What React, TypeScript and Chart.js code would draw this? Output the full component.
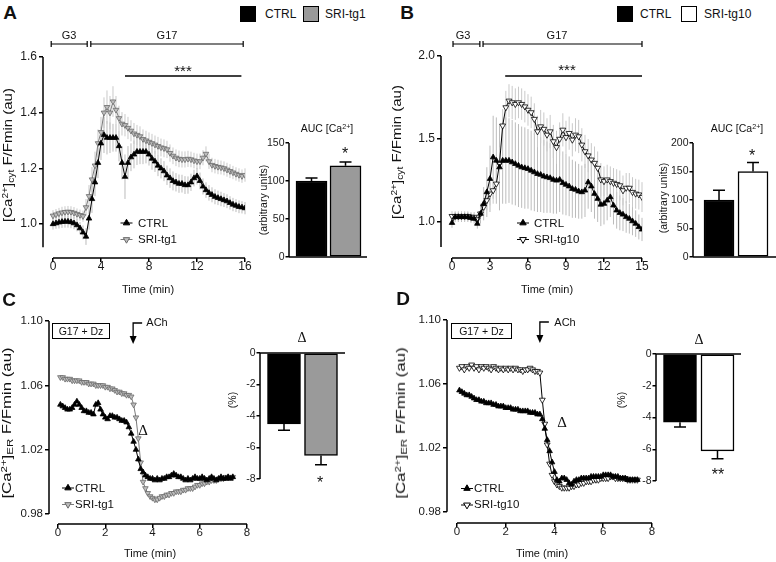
import React, { useEffect, useRef } from 'react';
import { Chart, registerables } from 'chart.js';

Chart.register(...registerables);

const FONT = "'Liberation Sans', Arial, Helvetica, sans-serif";
const SERIF = "'Liberation Serif', 'DejaVu Serif', serif";

// ---------------- Panel A: cytosolic Ca2+ (CTRL vs SRI-tg1) ----------------
const timeStartA = 0;
const timeStepA = 0.25;
const ctrlA = [
  1.000, 1.003, 1.006, 1.008, 1.009, 1.009, 1.007, 1.003, 0.996, 0.985,
  0.970, 0.955, 1.020, 1.090, 1.150, 1.220, 1.290, 1.320, 1.310, 1.310,
  1.310, 1.310, 1.280, 1.220, 1.170, 1.220, 1.240, 1.250, 1.260, 1.260,
  1.260, 1.260, 1.250, 1.235, 1.225, 1.210, 1.200, 1.190, 1.175, 1.165,
  1.155, 1.150, 1.145, 1.145, 1.140, 1.140, 1.150, 1.165, 1.172, 1.155,
  1.135, 1.122, 1.112, 1.105, 1.098, 1.094, 1.090, 1.086, 1.082, 1.076,
  1.070, 1.066, 1.062, 1.060, 1.057,
];
const ctrlAErr = [
  0.020, 0.020, 0.022, 0.022, 0.022, 0.022, 0.022, 0.022, 0.022, 0.022,
  0.025, 0.030, 0.040, 0.050, 0.050, 0.055, 0.060, 0.065, 0.060, 0.055,
  0.050, 0.050, 0.055, 0.060, 0.080, 0.060, 0.050, 0.050, 0.048, 0.045,
  0.045, 0.042, 0.040, 0.040, 0.038, 0.038, 0.036, 0.036, 0.035, 0.035,
  0.034, 0.033, 0.033, 0.032, 0.032, 0.031, 0.031, 0.030, 0.030, 0.030,
  0.029, 0.028, 0.028, 0.027, 0.027, 0.026, 0.026, 0.025, 0.025, 0.024,
  0.024, 0.023, 0.023, 0.022, 0.022,
];
const sriA = [
  1.030, 1.034, 1.038, 1.041, 1.043, 1.044, 1.043, 1.040, 1.036, 1.032,
  1.028, 1.060, 1.100, 1.160, 1.210, 1.290, 1.330, 1.400, 1.420, 1.400,
  1.440, 1.410, 1.380, 1.360, 1.355, 1.345, 1.335, 1.325, 1.320, 1.315,
  1.305, 1.300, 1.295, 1.290, 1.285, 1.280, 1.275, 1.272, 1.268, 1.255,
  1.245, 1.238, 1.234, 1.232, 1.232, 1.234, 1.232, 1.228, 1.225, 1.225,
  1.238, 1.252, 1.225, 1.212, 1.208, 1.205, 1.203, 1.200, 1.195, 1.190,
  1.185, 1.180, 1.176, 1.172, 1.176,
];
const sriAErr = [
  0.020, 0.020, 0.020, 0.021, 0.021, 0.021, 0.021, 0.021, 0.020, 0.020,
  0.020, 0.030, 0.040, 0.045, 0.050, 0.050, 0.055, 0.055, 0.060, 0.060,
  0.055, 0.050, 0.045, 0.042, 0.040, 0.040, 0.038, 0.038, 0.036, 0.036,
  0.035, 0.035, 0.034, 0.034, 0.033, 0.033, 0.032, 0.032, 0.031, 0.031,
  0.030, 0.030, 0.030, 0.029, 0.029, 0.029, 0.028, 0.028, 0.028, 0.028,
  0.027, 0.027, 0.027, 0.026, 0.026, 0.026, 0.025, 0.025, 0.025, 0.025,
  0.024, 0.024, 0.024, 0.024, 0.024,
];
const xTicksA = [0, 4, 8, 12, 16];
const yTicksA = [1.0, 1.2, 1.4, 1.6];
const aucA = [100, 120];
const aucAErr = [4, 5];
const aucTicksA = [0, 50, 100, 150];

// ---------------- Panel B: cytosolic Ca2+ (CTRL vs SRI-tg10) ----------------
const timeStartB = 0;
const timeStepB = 0.25;
const ctrlB = [
  0.995, 1.030, 1.030, 1.030, 1.030, 1.030, 1.025, 1.020, 0.990, 1.050,
  1.110, 1.180, 1.260, 1.390, 1.370, 1.330, 1.370, 1.370, 1.370, 1.360,
  1.350, 1.340, 1.330, 1.325, 1.320, 1.310, 1.300, 1.290, 1.285, 1.275,
  1.270, 1.265, 1.255, 1.250, 1.255, 1.235, 1.225, 1.215, 1.200, 1.195,
  1.185, 1.180, 1.190, 1.240, 1.215, 1.170, 1.140, 1.105, 1.110, 1.130,
  1.150, 1.100, 1.070, 1.055, 1.045, 1.030, 1.020, 1.005, 0.990, 0.970,
  0.955,
];
const ctrlBErr = [
  0.030, 0.030, 0.030, 0.030, 0.030, 0.030, 0.030, 0.030, 0.030, 0.060,
  0.100, 0.150, 0.200, 0.250, 0.260, 0.260, 0.260, 0.260, 0.255, 0.255,
  0.250, 0.250, 0.245, 0.245, 0.240, 0.240, 0.235, 0.230, 0.225, 0.220,
  0.215, 0.210, 0.205, 0.200, 0.195, 0.190, 0.185, 0.180, 0.175, 0.170,
  0.165, 0.160, 0.160, 0.160, 0.155, 0.150, 0.140, 0.130, 0.125, 0.120,
  0.120, 0.115, 0.110, 0.105, 0.100, 0.095, 0.090, 0.085, 0.080, 0.075,
  0.070,
];
const sriB = [
  1.035, 1.035, 1.035, 1.035, 1.035, 1.035, 1.030, 1.030, 1.015, 1.050,
  1.090, 1.130, 1.170, 1.190, 1.230, 1.350, 1.580, 1.690, 1.730, 1.720,
  1.710, 1.720, 1.710, 1.695, 1.675, 1.660, 1.620, 1.545, 1.575, 1.560,
  1.525, 1.545, 1.485, 1.450, 1.500, 1.555, 1.510, 1.535, 1.495, 1.525,
  1.515, 1.465, 1.425, 1.400, 1.375, 1.355, 1.325, 1.255, 1.245, 1.255,
  1.245, 1.235, 1.228, 1.220, 1.190, 1.205, 1.205, 1.180, 1.170, 1.165,
  1.150,
];
const sriBErr = [
  0.030, 0.030, 0.030, 0.030, 0.030, 0.030, 0.030, 0.030, 0.030, 0.040,
  0.050, 0.060, 0.070, 0.080, 0.090, 0.100, 0.100, 0.100, 0.100, 0.100,
  0.095, 0.095, 0.095, 0.095, 0.095, 0.095, 0.095, 0.095, 0.100, 0.100,
  0.100, 0.100, 0.100, 0.100, 0.100, 0.100, 0.100, 0.100, 0.100, 0.100,
  0.100, 0.100, 0.100, 0.100, 0.100, 0.100, 0.100, 0.100, 0.090, 0.090,
  0.090, 0.090, 0.090, 0.090, 0.090, 0.090, 0.090, 0.090, 0.090, 0.090,
  0.090,
];
const xTicksB = [0, 3, 6, 9, 12, 15];
const yTicksB = [1.0, 1.5, 2.0];
const aucB = [100, 150];
const aucBErr = [17, 16];
const aucTicksB = [0, 50, 100, 150, 200];

// ---------------- Panel C: ER Ca2+ (CTRL vs SRI-tg1) ----------------
const timeStartC = 0.1;
const timeStepC = 0.1;
const ctrlC = [
  1.048, 1.047, 1.046, 1.045, 1.045, 1.046, 1.048, 1.050, 1.048, 1.046,
  1.044, 1.044, 1.043, 1.043, 1.042, 1.048, 1.049, 1.045, 1.042, 1.040,
  1.039, 1.041, 1.041, 1.040, 1.040, 1.039, 1.038, 1.038, 1.037, 1.034,
  1.030, 1.025, 1.020, 1.014, 1.008, 1.006, 1.004, 1.003, 1.002, 1.002,
  1.001, 1.002, 1.001, 1.002, 1.002, 1.003, 1.003, 1.004, 1.005, 1.004,
  1.003, 1.003, 1.002, 1.001, 1.002, 1.001, 1.002, 1.003, 1.002, 1.002,
  1.003, 1.002, 1.001, 1.002, 1.003, 1.002, 1.001, 1.002, 1.003, 1.002,
  1.002, 1.003, 1.002, 1.003,
];
const sriC = [
  1.065, 1.065, 1.064, 1.064, 1.064, 1.063, 1.063, 1.063, 1.063, 1.062,
  1.062, 1.062, 1.061, 1.061, 1.061, 1.060, 1.060, 1.060, 1.060, 1.059,
  1.059, 1.058, 1.058, 1.057, 1.056, 1.056, 1.055, 1.055, 1.054, 1.054,
  1.053, 1.048, 1.040, 1.027, 1.012, 1.000, 0.996, 0.993, 0.991, 0.990,
  0.989, 0.989, 0.990, 0.991, 0.991, 0.992, 0.992, 0.993, 0.993, 0.994,
  0.994, 0.994, 0.995, 0.995, 0.996, 0.996, 0.996, 0.997, 0.998, 0.998,
  0.999, 0.999, 1.000, 1.000, 1.001, 1.001, 1.001, 1.002, 1.002, 1.002,
  1.003, 1.003, 1.003, 1.003,
];
const xTicksC = [0, 2, 4, 6, 8];
const yTicksC = [0.98, 1.02, 1.06, 1.10];
const deltaC = [-4.5, -6.5];
const deltaCErr = [0.4, 0.6];
const deltaTicks = [0, -2, -4, -6, -8];

// ---------------- Panel D: ER Ca2+ (CTRL vs SRI-tg10) ----------------
const timeStartD = 0.1;
const timeStepD = 0.1;
const ctrlD = [
  1.056, 1.055, 1.054, 1.053, 1.053, 1.052, 1.051, 1.050, 1.050, 1.049,
  1.049, 1.048, 1.048, 1.048, 1.047, 1.047, 1.046, 1.046, 1.046, 1.045,
  1.045, 1.045, 1.044, 1.044, 1.044, 1.043, 1.043, 1.043, 1.043, 1.042,
  1.042, 1.042, 1.041, 1.041, 1.038, 1.032, 1.025, 1.018, 1.011, 1.005,
  1.000, 0.999, 1.001, 1.001, 1.000, 0.998, 0.997, 0.999, 1.000, 1.000,
  1.001, 1.001, 1.001, 1.001, 1.002, 1.002, 1.002, 1.002, 1.002, 1.003,
  1.003, 1.003, 1.003, 1.002, 1.002, 1.002, 1.001, 1.001, 1.001, 1.000,
  1.000, 1.000, 1.000, 1.000,
];
const sriD = [
  1.070, 1.071, 1.069, 1.071, 1.070, 1.072, 1.070, 1.071, 1.069, 1.071,
  1.070, 1.071, 1.070, 1.069, 1.071, 1.070, 1.069, 1.070, 1.069, 1.070,
  1.069, 1.070, 1.069, 1.070, 1.069, 1.069, 1.068, 1.069, 1.069, 1.070,
  1.069, 1.068, 1.068, 1.067, 1.050, 1.035, 1.022, 1.010, 1.003, 0.999,
  0.997, 0.996, 0.995, 0.995, 0.995, 0.995, 0.996, 0.996, 0.997, 0.997,
  0.998, 0.998, 0.999, 0.999, 0.999, 1.000, 1.000, 1.000, 1.001, 1.001,
  1.001, 1.001, 1.002, 1.002, 1.001, 1.001, 1.001, 1.001, 1.001, 1.000,
  1.000, 1.000, 1.000, 1.000,
];
const xTicksD = [0, 2, 4, 6, 8];
const yTicksD = [0.98, 1.02, 1.06, 1.10];
const deltaD = [-4.3, -6.1];
const deltaDErr = [0.3, 0.5];

// ---------------- styles ----------------
const BLACK_STYLE = { line: '#000', fill: '#000', stroke: '#000', down: false, err: '#bcbcbc' };
const GRAY_STYLE = { line: '#7a7a7a', fill: '#bdbdbd', stroke: '#6a6a6a', down: true, err: '#c9c9c9' };
const WHITE_STYLE = { line: '#000', fill: '#fff', stroke: '#000', down: true, err: '#c9c9c9' };

function tri(ctx: any, x: number, y: number, r: number, down: boolean, fill: string, stroke: string) {
  ctx.beginPath();
  let a = down ? Math.PI : 0;
  for (let k = 0; k < 3; k++) {
    const px = x + Math.sin(a) * r;
    const py = y - Math.cos(a) * r;
    if (k === 0) ctx.moveTo(px, py);
    else ctx.lineTo(px, py);
    a += (2 * Math.PI) / 3;
  }
  ctx.closePath();
  ctx.fillStyle = fill;
  ctx.fill();
  ctx.strokeStyle = stroke;
  ctx.lineWidth = 1;
  ctx.stroke();
}

function linePlugin(p: any) {
  return {
    id: 'linePanel',
    beforeDatasetsDraw(chart: any) {
      const ctx = chart.ctx;
      const xs = chart.scales.x;
      const ys = chart.scales.y;
      ctx.save();
      chart.data.datasets.forEach((ds: any) => {
        if (!ds.errors) return;
        ctx.beginPath();
        ctx.strokeStyle = ds.errColor;
        ctx.lineWidth = 1;
        ds.data.forEach((pt: any, i: number) => {
          const x = xs.getPixelForValue(pt.x);
          ctx.moveTo(x, ys.getPixelForValue(pt.y + ds.errors[i]));
          ctx.lineTo(x, ys.getPixelForValue(pt.y - ds.errors[i]));
        });
        ctx.stroke();
      });
      const left = chart.chartArea.left;
      const bottom = chart.chartArea.bottom;
      ctx.strokeStyle = '#000';
      ctx.lineWidth = 1.5;
      ctx.beginPath();
      ctx.moveTo(left, ys.getPixelForValue(p.yAxis[1]));
      ctx.lineTo(left, ys.getPixelForValue(p.yAxis[0]));
      ctx.moveTo(xs.getPixelForValue(p.xAxis[0]), bottom);
      ctx.lineTo(xs.getPixelForValue(p.xAxis[1]), bottom);
      ctx.stroke();
      ctx.restore();
    },
    afterDatasetsDraw(chart: any) {
      const ctx = chart.ctx;
      const xs = chart.scales.x;
      const ox = p.box.cx;
      const oy = p.box.cy;
      ctx.save();
      ctx.strokeStyle = '#000';
      ctx.fillStyle = '#000';
      ctx.lineWidth = 1.2;
      if (p.brackets) {
        const y = p.bracketY - oy;
        p.brackets.forEach((br: number[]) => {
          const x1 = xs.getPixelForValue(br[0]);
          const x2 = xs.getPixelForValue(br[1]);
          ctx.beginPath();
          ctx.moveTo(x1, y); ctx.lineTo(x2, y);
          ctx.moveTo(x1, y - 3); ctx.lineTo(x1, y + 3);
          ctx.moveTo(x2, y - 3); ctx.lineTo(x2, y + 3);
          ctx.stroke();
        });
      }
      if (p.sig) {
        ctx.lineWidth = 1.6;
        ctx.beginPath();
        ctx.moveTo(xs.getPixelForValue(p.sig[0]), p.sig[2] - oy);
        ctx.lineTo(xs.getPixelForValue(p.sig[1]), p.sig[2] - oy);
        ctx.stroke();
      }
      if (p.arrow) {
        const ax = xs.getPixelForValue(p.arrow[0]);
        const y1 = p.arrow[1] - oy;
        const y2 = p.arrow[2] - oy;
        ctx.lineWidth = 1.3;
        ctx.beginPath();
        ctx.moveTo(ax + 9, y1); ctx.lineTo(ax, y1); ctx.lineTo(ax, y2 - 6);
        ctx.stroke();
        ctx.beginPath();
        ctx.moveTo(ax - 3.5, y2 - 8); ctx.lineTo(ax + 3.5, y2 - 8); ctx.lineTo(ax, y2);
        ctx.closePath();
        ctx.fill();
      }
      p.series.forEach((s: any) => {
        const lx = s.legend[0] - ox;
        const ly = s.legend[1] - oy;
        ctx.strokeStyle = s.line;
        ctx.lineWidth = 1;
        ctx.beginPath();
        ctx.moveTo(lx - 6, ly); ctx.lineTo(lx + 6, ly);
        ctx.stroke();
        tri(ctx, lx, ly, s.r + 0.5, s.down, s.fill, s.stroke);
      });
      ctx.restore();
    },
  };
}

function makeLineConfig(p: any) {
  const b = p.box;
  const datasets = p.series.map((s: any) => ({
    data: s.values.map((v: number, i: number) => ({ x: s.t0 + i * s.step, y: v })),
    errors: s.errors || null,
    errColor: s.err,
    borderColor: s.line,
    borderWidth: 1,
    tension: 0,
    fill: false,
    pointStyle: 'triangle',
    pointRotation: s.down ? 180 : 0,
    pointRadius: s.r,
    pointBackgroundColor: s.fill,
    pointBorderColor: s.stroke,
    pointBorderWidth: 0.8,
  }));
  const tickFont = { family: FONT, size: p.tickSize, lineHeight: 1 };
  return {
    type: 'line',
    data: { datasets },
    options: {
      animation: false,
      responsive: false,
      devicePixelRatio: 1,
      events: [],
      layout: { padding: { left: 0, top: b.T - b.cy, right: b.cx + b.cw - b.R, bottom: 0 } },
      plugins: { legend: { display: false }, tooltip: { enabled: false } },
      scales: {
        x: {
          type: 'linear',
          min: p.xMin,
          max: p.xMax,
          afterBuildTicks: (s: any) => { s.ticks = p.xTicks.map((v: number) => ({ value: v })); },
          afterFit: (s: any) => { s.height = b.cy + b.ch - b.B; },
          grid: { display: true, drawOnChartArea: false, drawTicks: true, tickLength: 4, color: '#000', lineWidth: 1.5 },
          border: { display: false },
          ticks: { color: '#1a1a1a', font: tickFont, padding: -1, maxRotation: 0, autoSkip: false, callback: (v: any) => String(v) },
        },
        y: {
          type: 'linear',
          min: p.yMin,
          max: p.yMax,
          afterBuildTicks: (s: any) => { s.ticks = p.yTicks.map((v: number) => ({ value: v })); },
          afterFit: (s: any) => { s.width = b.L - b.cx; },
          grid: { display: true, drawOnChartArea: false, drawTicks: true, tickLength: 4, color: '#000', lineWidth: 1.5 },
          border: { display: false },
          ticks: { color: '#1a1a1a', font: tickFont, padding: 2, autoSkip: false, callback: (v: any) => Number(v).toFixed(p.yDigits) },
        },
      },
    },
    plugins: [linePlugin(p)],
  };
}

function barPlugin(p: any) {
  return {
    id: 'barPanel',
    afterDatasetsDraw(chart: any) {
      const ctx = chart.ctx;
      const xs = chart.scales.x;
      const ys = chart.scales.y;
      ctx.save();
      ctx.strokeStyle = '#000';
      ctx.lineWidth = 1.5;
      ctx.beginPath();
      p.values.forEach((v: number, i: number) => {
        const x = xs.getPixelForValue(i);
        const y0 = ys.getPixelForValue(v);
        const y1 = ys.getPixelForValue(v + Math.sign(v) * p.errors[i]);
        ctx.moveTo(x, y0); ctx.lineTo(x, y1);
        ctx.moveTo(x - 6, y1); ctx.lineTo(x + 6, y1);
      });
      const left = chart.chartArea.left;
      ctx.moveTo(left, ys.getPixelForValue(p.yMax));
      ctx.lineTo(left, ys.getPixelForValue(p.yMin));
      const y0 = ys.getPixelForValue(0);
      ctx.moveTo(left, y0);
      ctx.lineTo(chart.chartArea.right, y0);
      ctx.stroke();
      ctx.restore();
    },
  };
}

function makeBarConfig(p: any) {
  const b = p.box;
  return {
    type: 'bar',
    data: {
      datasets: [{
        data: p.values.map((v: number, i: number) => ({ x: i, y: v })),
        backgroundColor: p.fills,
        borderColor: '#000',
        borderWidth: 1.5,
        borderSkipped: false,
        barThickness: p.barW,
      }],
    },
    options: {
      animation: false,
      responsive: false,
      devicePixelRatio: 1,
      events: [],
      layout: { padding: { left: 0, top: b.T - b.cy, right: b.cx + b.cw - b.R, bottom: b.cy + b.ch - b.B } },
      plugins: { legend: { display: false }, tooltip: { enabled: false } },
      scales: {
        x: { type: 'linear', display: false, min: p.xMin, max: p.xMax, offset: false },
        y: {
          type: 'linear',
          min: p.yMin,
          max: p.yMax,
          afterBuildTicks: (s: any) => { s.ticks = p.yTicks.map((v: number) => ({ value: v })); },
          afterFit: (s: any) => { s.width = b.L - b.cx; },
          grid: { display: true, drawOnChartArea: false, drawTicks: true, tickLength: 3.5, color: '#000', lineWidth: 1.5 },
          border: { display: false },
          ticks: { color: '#1a1a1a', font: { family: FONT, size: 10.5, lineHeight: 1 }, padding: 1, autoSkip: false, callback: (v: any) => String(v) },
        },
      },
    },
    plugins: [barPlugin(p)],
  };
}

function ChartCanvas({ box, build }: { box: any; build: () => any }) {
  const ref = useRef<HTMLCanvasElement>(null);
  useEffect(() => {
    const chart = new Chart(ref.current as HTMLCanvasElement, build() as any);
    return () => chart.destroy();
  }, []);
  return (
    <canvas
      ref={ref}
      width={box.cw}
      height={box.ch}
      style={{ position: 'absolute', left: box.cx, top: box.cy, width: box.cw, height: box.ch }}
    />
  );
}

// ---------------- panel definitions ----------------
const lineA = {
  box: { cx: 0, cy: 25, cw: 262, ch: 275, L: 43, T: 57, R: 245, B: 258 },
  xMin: -0.833, xMax: 16, yMin: 0.878, yMax: 1.6,
  xTicks: xTicksA, yTicks: yTicksA, yDigits: 1, tickSize: 12,
  yAxis: [0.917, 1.6], xAxis: [0, 16],
  brackets: [[-0.15, 2.85], [3.15, 15.85]], bracketY: 44,
  sig: [6.0, 15.7, 76],
  series: [
    { values: ctrlA, errors: ctrlAErr, t0: timeStartA, step: timeStepA, r: 3.2, legend: [126.5, 223], ...BLACK_STYLE },
    { values: sriA, errors: sriAErr, t0: timeStartA, step: timeStepA, r: 3.2, legend: [126.5, 239.5], ...GRAY_STYLE },
  ],
};
const barA = {
  box: { cx: 255, cy: 120, cw: 120, ch: 150, L: 289, T: 143, R: 367, B: 257 },
  xMin: -0.662, xMax: 1.632, yMin: 0, yMax: 150, yTicks: aucTicksA,
  values: aucA, errors: aucAErr, fills: ['#000', '#9a9a9a'], barW: 31,
};
const lineB = {
  box: { cx: 390, cy: 25, cw: 266, ch: 275, L: 441, T: 56, R: 642, B: 258 },
  xMin: -0.868, xMax: 15, yMin: 0.783, yMax: 2.0,
  xTicks: xTicksB, yTicks: yTicksB, yDigits: 1, tickSize: 12,
  yAxis: [0.849, 2.0], xAxis: [0, 15],
  brackets: [[0.08, 2.2], [2.45, 15]], bracketY: 44,
  sig: [4.2, 15, 76],
  series: [
    { values: ctrlB, errors: ctrlBErr, t0: timeStartB, step: timeStepB, r: 3.2, legend: [523, 223], ...BLACK_STYLE },
    { values: sriB, errors: sriBErr, t0: timeStartB, step: timeStepB, r: 3.4, legend: [523, 239.5], ...WHITE_STYLE },
  ],
};
const barB = {
  box: { cx: 655, cy: 120, cw: 121, ch: 150, L: 693, T: 143, R: 776, B: 257 },
  xMin: -0.765, xMax: 1.676, yMin: 0, yMax: 200, yTicks: aucTicksB,
  values: aucB, errors: aucBErr, fills: ['#000', '#fff'], barW: 30,
};
const lineC = {
  box: { cx: 0, cy: 300, cw: 262, ch: 262, L: 49, T: 321, R: 247, B: 524 },
  xMin: -0.381, xMax: 8, yMin: 0.9738, yMax: 1.10,
  xTicks: xTicksC, yTicks: yTicksC, yDigits: 2, tickSize: 11.5,
  yAxis: [0.98, 1.10], xAxis: [0, 8],
  arrow: [3.18, 323, 344],
  series: [
    { values: ctrlC, t0: timeStartC, step: timeStepC, r: 3.2, legend: [68, 488], ...BLACK_STYLE },
    { values: sriC, t0: timeStartC, step: timeStepC, r: 3.2, legend: [68, 504.5], ...GRAY_STYLE },
  ],
};
const barC = {
  box: { cx: 220, cy: 330, cw: 140, ch: 165, L: 260, T: 353, R: 345, B: 479 },
  xMin: -0.649, xMax: 1.649, yMin: -8, yMax: 0, yTicks: deltaTicks,
  values: deltaC, errors: deltaCErr, fills: ['#000', '#9a9a9a'], barW: 33,
};
const lineD = {
  box: { cx: 390, cy: 300, cw: 272, ch: 262, L: 447, T: 320, R: 652, B: 523 },
  xMin: -0.41, xMax: 8, yMin: 0.973, yMax: 1.10,
  xTicks: xTicksD, yTicks: yTicksD, yDigits: 2, tickSize: 11.5,
  yAxis: [0.98, 1.10], xAxis: [0, 8],
  arrow: [3.4, 322, 343],
  series: [
    { values: ctrlD, t0: timeStartD, step: timeStepD, r: 3.2, legend: [467, 488.5], ...BLACK_STYLE },
    { values: sriD, t0: timeStartD, step: timeStepD, r: 3.4, legend: [467, 505], ...WHITE_STYLE },
  ],
};
const barD = {
  box: { cx: 615, cy: 330, cw: 140, ch: 165, L: 656, T: 354, R: 741, B: 481 },
  xMin: -0.64, xMax: 1.627, yMin: -8, yMax: 0, yTicks: deltaTicks,
  values: deltaD, errors: deltaDErr, fills: ['#000', '#fff'], barW: 33,
};

// ---------------- text helper ----------------
function Txt({ x, y, s = 11, a = 'm', r = 0, k = 1, b = false, f = FONT, children }: any) {
  const tx = a === 's' ? '0' : a === 'e' ? '-100%' : '-50%';
  return (
    <div
      style={{
        position: 'absolute', left: x, top: y,
        transform: `translate(${tx}, -50%) rotate(${r}deg) scaleX(${k})`,
        fontSize: s, lineHeight: 1, whiteSpace: 'nowrap', fontFamily: f,
        fontWeight: b ? 'bold' : 'normal', color: '#111',
      }}
    >
      {children}
    </div>
  );
}
const sup = (t: string) => <span style={{ fontSize: '0.68em', verticalAlign: '0.45em' }}>{t}</span>;
const sub = (t: string) => <span style={{ fontSize: '0.68em', verticalAlign: '-0.25em' }}>{t}</span>;

function Swatch({ x, y, fill }: any) {
  return <div style={{ position: 'absolute', left: x, top: y, width: 16, height: 16, boxSizing: 'border-box', background: fill, border: '1.5px solid #000' }} />;
}

function BoxLabel({ x, y, w }: any) {
  return (
    <div style={{ position: 'absolute', left: x, top: y, width: w, height: 16, boxSizing: 'border-box', border: '1.2px solid #000', fontFamily: FONT, fontSize: 10.5, lineHeight: '14px', textAlign: 'center', color: '#111' }}>
      G17 + Dz
    </div>
  );
}

export default function App() {
  const cytLabel = (<>[Ca{sup('2+')}]{sub('cyt')} F/Fmin (au)</>);
  const erLabel = (<>[Ca{sup('2+')}]{sub('ER')} F/Fmin (au)</>);
  return (
    <div style={{ position: 'absolute', left: 0, top: 0, width: 776, height: 562, background: '#fff', overflow: 'hidden', fontFamily: FONT }}>
      <ChartCanvas box={lineA.box} build={() => makeLineConfig(lineA)} />
      <ChartCanvas box={barA.box} build={() => makeBarConfig(barA)} />
      <ChartCanvas box={lineB.box} build={() => makeLineConfig(lineB)} />
      <ChartCanvas box={barB.box} build={() => makeBarConfig(barB)} />
      <ChartCanvas box={lineC.box} build={() => makeLineConfig(lineC)} />
      <ChartCanvas box={barC.box} build={() => makeBarConfig(barC)} />
      <ChartCanvas box={lineD.box} build={() => makeLineConfig(lineD)} />
      <ChartCanvas box={barD.box} build={() => makeBarConfig(barD)} />

      {/* panel letters */}
      <Txt x={10} y={12} s={19} b>A</Txt>
      <Txt x={407} y={12} s={19} b>B</Txt>
      <Txt x={9} y={299} s={19} b>C</Txt>
      <Txt x={403} y={298} s={19} b>D</Txt>

      {/* top legends */}
      <Swatch x={240} y={6} fill="#000" />
      <Txt x={265} y={14} s={12} a="s">CTRL</Txt>
      <Swatch x={303} y={6} fill="#9a9a9a" />
      <Txt x={325} y={14} s={12} a="s">SRI-tg1</Txt>
      <Swatch x={617} y={6} fill="#000" />
      <Txt x={640} y={14} s={12} a="s">CTRL</Txt>
      <Swatch x={681} y={6} fill="#fff" />
      <Txt x={704} y={14} s={12} a="s">SRI-tg10</Txt>

      {/* panel A annotations */}
      <Txt x={69} y={35} s={11}>G3</Txt>
      <Txt x={167} y={35} s={11}>G17</Txt>
      <Txt x={183} y={70} s={15}>***</Txt>
      <Txt x={9} y={155} s={12} r={-90} k={1.25}>{cytLabel}</Txt>
      <Txt x={148} y={289} s={11}>Time (min)</Txt>
      <Txt x={138} y={223.5} s={11.5} a="s">CTRL</Txt>
      <Txt x={138} y={239.5} s={11.5} a="s">SRI-tg1</Txt>
      <Txt x={327} y={128} s={10.5}>AUC [Ca{sup('2+')}]</Txt>
      <Txt x={263} y={200} s={10.5} r={-90}>(arbitrary units)</Txt>
      <Txt x={345} y={154} s={16}>*</Txt>

      {/* panel B annotations */}
      <Txt x={463} y={35} s={11}>G3</Txt>
      <Txt x={557} y={35} s={11}>G17</Txt>
      <Txt x={567} y={69} s={15}>***</Txt>
      <Txt x={398} y={152} s={12} r={-90} k={1.25}>{cytLabel}</Txt>
      <Txt x={547} y={289} s={11}>Time (min)</Txt>
      <Txt x={534} y={223.5} s={11.5} a="s">CTRL</Txt>
      <Txt x={534} y={239.5} s={11.5} a="s">SRI-tg10</Txt>
      <Txt x={737} y={128} s={10.5}>AUC [Ca{sup('2+')}]</Txt>
      <Txt x={663} y={198} s={10.5} r={-90}>(arbitrary units)</Txt>
      <Txt x={752} y={156} s={16}>*</Txt>

      {/* panel C annotations */}
      <BoxLabel x={52} y={323} w={58} />
      <Txt x={157} y={322} s={11}>ACh</Txt>
      <Txt x={143} y={430} s={15} f={SERIF}>Δ</Txt>
      <Txt x={8} y={423} s={12} r={-90} k={1.4}>{erLabel}</Txt>
      <Txt x={150} y={553} s={11}>Time (min)</Txt>
      <Txt x={75} y={488.5} s={11.5} a="s">CTRL</Txt>
      <Txt x={75} y={505} s={11.5} a="s">SRI-tg1</Txt>
      <Txt x={302} y={338} s={14} f={SERIF}>Δ</Txt>
      <Txt x={232} y={400} s={10.5} r={-90}>(%)</Txt>
      <Txt x={320} y={483} s={16}>*</Txt>

      {/* panel D annotations */}
      <BoxLabel x={451} y={323} w={61} />
      <Txt x={565} y={322} s={11}>ACh</Txt>
      <Txt x={562} y={422} s={15} f={SERIF}>Δ</Txt>
      <Txt x={402} y={423} s={12} r={-90} k={1.4}>{erLabel}</Txt>
      <Txt x={542} y={553} s={11}>Time (min)</Txt>
      <Txt x={474} y={488.5} s={11.5} a="s">CTRL</Txt>
      <Txt x={474} y={505} s={11.5} a="s">SRI-tg10</Txt>
      <Txt x={699} y={340} s={14} f={SERIF}>Δ</Txt>
      <Txt x={621} y={400} s={10.5} r={-90}>(%)</Txt>
      <Txt x={718} y={475} s={16}>**</Txt>
    </div>
  );
}
